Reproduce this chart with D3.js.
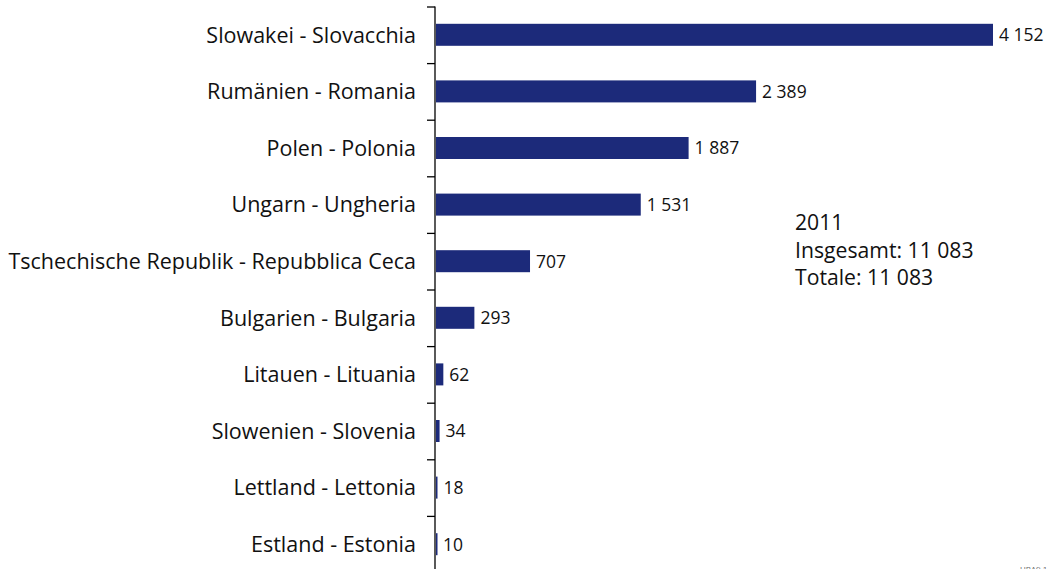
<!DOCTYPE html>
<html>
<head>
<meta charset="utf-8">
<script src="https://cdn.jsdelivr.net/npm/d3@7"></script>
<style>
  body { margin: 0; background: #fff; }
  text { font-family: "Open Sans", sans-serif; fill: #111; }
</style>
</head>
<body>
<div id="chart"></div>
<script>
var countries = ["Slowakei - Slovacchia", "Rumänien - Romania", "Polen - Polonia",
    "Ungarn - Ungheria", "Tschechische Republik - Repubblica Ceca", "Bulgarien - Bulgaria",
    "Litauen - Lituania", "Slowenien - Slovenia", "Lettland - Lettonia", "Estland - Estonia"]
var values = [4152, 2389, 1887, 1531, 707, 293, 62, 34, 18, 10]
var noteLines = ["2011", "Insgesamt: 11 083", "Totale: 11 083"]

var width = 1055,
    height = 569,
    axisX = 435,
    topY = 6.5,
    band = 56.6,
    barH = 22

var svg = d3.select("#chart")
    .append("svg")
    .attr("width", width)
    .attr("height", height)

var locale = d3.formatLocale({ decimal: ",", thousands: " ", grouping: [3], currency: ["", ""] })
var fmt = locale.format(",d")

var x = d3.scaleLinear()
    .domain([0, 4152])
    .range([axisX, 993])

var y = d3.scaleBand()
    .domain(countries)
    .range([topY, topY + band * countries.length])

// tick positions sit on the band edges
var yEdge = d3.scaleLinear()
    .domain([0, countries.length])
    .range([topY, topY + band * countries.length])

svg.append("g")
    .attr("transform", "translate(" + axisX + ",0)")
    .call(d3.axisLeft(yEdge).ticks(countries.length).tickFormat("").tickSize(8).tickSizeOuter(0))
    .call(g => g.select(".domain").attr("stroke", "#000").attr("stroke-width", 1.3).attr("d", "M0," + topY + "V" + (height + 10)))
    .call(g => g.selectAll(".tick line").attr("stroke", "#000").attr("stroke-width", 1.3))

var rows = svg.selectAll(".row")
    .data(countries)
    .enter()
    .append("g")
    .attr("class", "row")

rows.append("rect")
    .attr("x", axisX + 1)
    .attr("y", d => y(d) + y.bandwidth() / 2 - barH / 2)
    .attr("width", (d, i) => Math.max(1.5, x(values[i]) - axisX - 1))
    .attr("height", barH)
    .attr("fill", "#1c2a7a")

rows.append("text")
    .attr("x", 416)
    .attr("y", d => y(d) + y.bandwidth() / 2)
    .attr("dy", "0.36em")
    .attr("text-anchor", "end")
    .style("font-size", "21.5px")
    .text(d => d)

rows.append("text")
    .attr("x", (d, i) => Math.max(x(values[i]), axisX + 2) + 6)
    .attr("y", d => y(d) + y.bandwidth() / 2)
    .attr("dy", "0.36em")
    .style("font-size", "17.5px")
    .text((d, i) => fmt(values[i]))

svg.append("g")
    .selectAll("text")
    .data(noteLines)
    .enter()
    .append("text")
    .attr("x", 795)
    .attr("y", (d, i) => 230 + i * 27.5)
    .style("font-size", "21.2px")
    .text(d => d)

svg.append("text")
    .attr("x", 1020)
    .attr("y", 572)
    .style("font-size", "8px")
    .style("fill", "#666")
    .text("UBA9 1")
</script>
</body>
</html>
